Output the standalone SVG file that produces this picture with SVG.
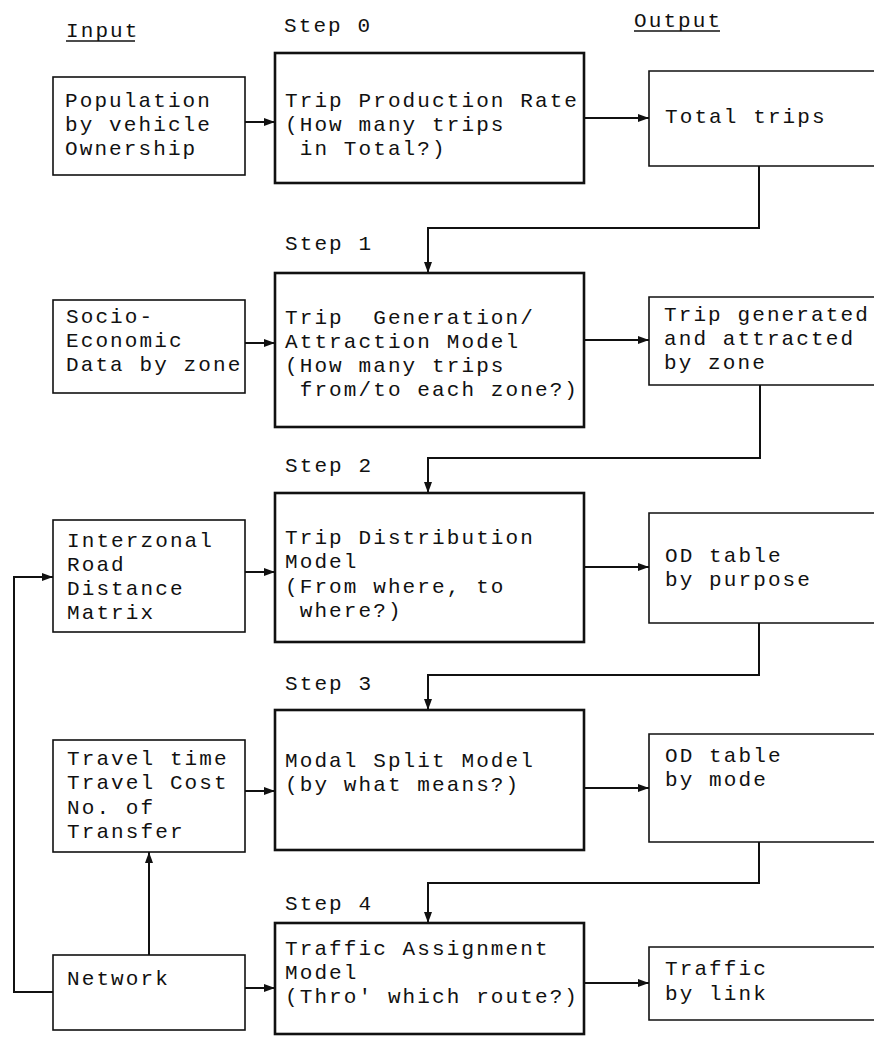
<svg xmlns="http://www.w3.org/2000/svg" width="874" height="1037" viewBox="0 0 874 1037">
<defs>
<style>
text{font-family:"Liberation Mono","DejaVu Sans Mono",monospace;font-size:21px;letter-spacing:2.1px;fill:#111;white-space:pre}
.io{fill:#fff;stroke:#111;stroke-width:1.6}
.step{fill:#fff;stroke:#111;stroke-width:2.6}
.con{fill:none;stroke:#111;stroke-width:2}
.ul{stroke:#111;stroke-width:1.4}
</style>
<marker id="ah" markerUnits="userSpaceOnUse" markerWidth="12" markerHeight="10" refX="11" refY="4" orient="auto">
<path d="M0,0 L11,4 L0,8 Z" fill="#111"/>
</marker>
</defs>
<rect width="874" height="1037" fill="#fff"/>

<g id="headers">
<text x="66" y="37">Input</text>
<line class="ul" x1="66" y1="41" x2="135" y2="41"/>
<text x="284" y="32">Step 0</text>
<text x="634" y="27">Output</text>
<line class="ul" x1="634" y1="31" x2="720" y2="31"/>
<text x="285" y="250">Step 1</text>
<text x="285" y="472">Step 2</text>
<text x="285" y="690">Step 3</text>
<text x="285" y="910">Step 4</text>
</g>

<g id="connectors">
<line class="con" x1="245" y1="122" x2="275" y2="122" marker-end="url(#ah)"/>
<line class="con" x1="584" y1="118" x2="649" y2="118" stroke-width="1.5" marker-end="url(#ah)"/>
<polyline class="con" points="759,166 759,228 428,228 428,273" marker-end="url(#ah)"/>
<line class="con" x1="245" y1="343" x2="275" y2="343" marker-end="url(#ah)"/>
<line class="con" x1="584" y1="340" x2="649" y2="340" marker-end="url(#ah)"/>
<polyline class="con" points="760,385 760,458 428,458 428,493" marker-end="url(#ah)"/>
<line class="con" x1="245" y1="572" x2="275" y2="572" marker-end="url(#ah)"/>
<line class="con" x1="584" y1="567" x2="649" y2="567" marker-end="url(#ah)"/>
<polyline class="con" points="759,623 759,675 428,675 428,710" marker-end="url(#ah)"/>
<line class="con" x1="245" y1="791" x2="275" y2="791" marker-end="url(#ah)"/>
<line class="con" x1="584" y1="788" x2="649" y2="788" marker-end="url(#ah)"/>
<polyline class="con" points="759,842 759,883 428,883 428,923" marker-end="url(#ah)"/>
<line class="con" x1="149" y1="955" x2="149" y2="852" marker-end="url(#ah)"/>
<line class="con" x1="245" y1="988" x2="275" y2="988" marker-end="url(#ah)"/>
<polyline class="con" points="53,992 14,992 14,577 53,577" marker-end="url(#ah)"/>
<line class="con" x1="584" y1="983" x2="649" y2="983" marker-end="url(#ah)"/>
</g>

<g id="population">
<rect class="io" x="53" y="77" width="192" height="98"/>
<text x="65" y="107">Population</text>
<text x="65" y="131">by vehicle</text>
<text x="65" y="155">Ownership</text>
</g>

<g id="trip-production">
<rect class="step" x="275" y="53" width="309" height="130"/>
<text x="285" y="107">Trip Production Rate</text>
<text x="285" y="131">(How many trips</text>
<text x="285" y="155"> in Total?)</text>
</g>

<g id="total-trips">
<path class="io" d="M876,71 H649 V166 H876"/>
<text x="665" y="123">Total trips</text>
</g>

<g id="socio">
<rect class="io" x="53" y="300" width="192" height="93"/>
<text x="66" y="323">Socio-</text>
<text x="66" y="347">Economic</text>
<text x="66" y="371">Data by zone</text>
</g>

<g id="trip-generation">
<rect class="step" x="275" y="273" width="309" height="154"/>
<text x="285" y="324">Trip  Generation/</text>
<text x="285" y="348">Attraction Model</text>
<text x="285" y="372">(How many trips</text>
<text x="285" y="396"> from/to each zone?)</text>
</g>

<g id="trip-generated">
<path class="io" d="M876,297 H649 V385 H876"/>
<text x="664" y="321">Trip generated</text>
<text x="664" y="345">and attracted</text>
<text x="664" y="369">by zone</text>
</g>

<g id="interzonal">
<rect class="io" x="53" y="520" width="192" height="112"/>
<text x="67" y="547">Interzonal</text>
<text x="67" y="571">Road</text>
<text x="67" y="595">Distance</text>
<text x="67" y="619">Matrix</text>
</g>

<g id="trip-distribution">
<rect class="step" x="275" y="493" width="309" height="149"/>
<text x="285" y="544">Trip Distribution</text>
<text x="285" y="568">Model</text>
<text x="285" y="593">(From where, to</text>
<text x="285" y="617"> where?)</text>
</g>

<g id="od-purpose">
<path class="io" d="M876,513 H649 V623 H876"/>
<text x="665" y="562">OD table</text>
<text x="665" y="586">by purpose</text>
</g>

<g id="travel">
<rect class="io" x="53" y="740" width="192" height="112"/>
<text x="67" y="765">Travel time</text>
<text x="67" y="789">Travel Cost</text>
<text x="67" y="814">No. of</text>
<text x="67" y="838">Transfer</text>
</g>

<g id="modal-split">
<rect class="step" x="275" y="710" width="309" height="140"/>
<text x="285" y="767">Modal Split Model</text>
<text x="285" y="791">(by what means?)</text>
</g>

<g id="od-mode">
<path class="io" d="M876,734 H649 V842 H876"/>
<text x="665" y="762">OD table</text>
<text x="665" y="786">by mode</text>
</g>

<g id="network">
<rect class="io" x="53" y="955" width="192" height="75"/>
<text x="67" y="985">Network</text>
</g>

<g id="traffic-assignment">
<rect class="step" x="275" y="923" width="309" height="111"/>
<text x="285" y="955">Traffic Assignment</text>
<text x="285" y="979">Model</text>
<text x="285" y="1003">(Thro' which route?)</text>
</g>

<g id="traffic-link">
<path class="io" d="M876,947 H649 V1020 H876"/>
<text x="665" y="975">Traffic</text>
<text x="665" y="1000">by link</text>
</g>
</svg>
